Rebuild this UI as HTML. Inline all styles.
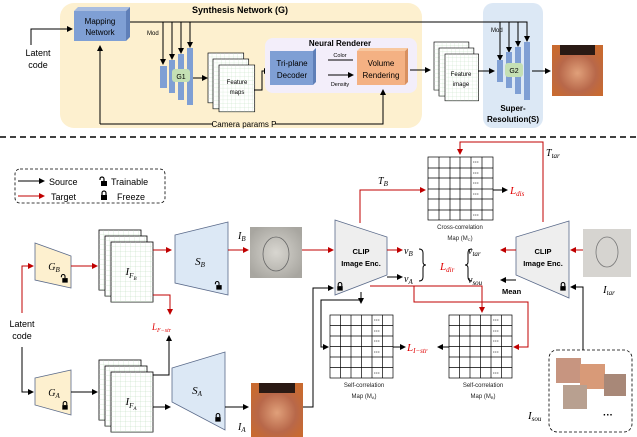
<!DOCTYPE html>
<html><head><meta charset="utf-8"><style>
body{margin:0;background:#fff}
svg{display:block;font-family:"Liberation Sans",sans-serif}
.s{font-size:9px}
.m{font-family:"Liberation Serif",serif;font-style:italic}
</style></head><body>
<svg width="637" height="437" viewBox="0 0 637 437" xmlns="http://www.w3.org/2000/svg">
<defs>
<marker id="ak" markerWidth="6" markerHeight="6" refX="5" refY="3" orient="auto" markerUnits="userSpaceOnUse"><path d="M0,0L6,3L0,6z" fill="#000"/></marker>
<marker id="ar" markerWidth="6" markerHeight="6" refX="5" refY="3" orient="auto" markerUnits="userSpaceOnUse"><path d="M0,0L6,3L0,6z" fill="#c00000"/></marker>
<pattern id="grid" width="5" height="5" patternUnits="userSpaceOnUse"><path d="M5,0V5H0" fill="none" stroke="#b8dcb8" stroke-width="0.5"/></pattern>
<radialGradient id="face" cx="50%" cy="55%" r="60%"><stop offset="0" stop-color="#e0a07a"/><stop offset="0.6" stop-color="#b8684a"/><stop offset="1" stop-color="#c86a30"/></radialGradient>
<radialGradient id="sk" cx="50%" cy="50%" r="60%"><stop offset="0" stop-color="#d8d6d0"/><stop offset="1" stop-color="#a8a6a0"/></radialGradient>
<g id="lock"><rect x="-3" y="-1" width="6" height="5" fill="#000"/><path d="M-2,-1V-3a2,2 0 0 1 4,0V-1" fill="none" stroke="#000" stroke-width="1.2"/></g>
<g id="ulock"><rect x="-3" y="-1" width="6" height="5" fill="#000"/><path d="M-4,-2V-3a2,2 0 0 1 4,0V-1" fill="none" stroke="#000" stroke-width="1.2"/></g>
<g id="sheet"><rect width="42" height="60" fill="#fff" stroke="#000" stroke-width="0.8"/><rect width="42" height="60" fill="url(#grid)"/></g>
</defs>

<!-- TOP -->
<rect x="60" y="3" width="362" height="125" rx="14" fill="#fdf0cf"/>
<rect x="483" y="3" width="60" height="125" rx="10" fill="#dce8f5"/>
<text x="240" y="13" font-size="9" font-weight="bold" text-anchor="middle">Synthesis Network (G)</text>
<text x="38" y="56" font-size="9" text-anchor="middle">Latent</text>
<text x="38" y="68" font-size="9" text-anchor="middle">code</text>
<path d="M31,45V29H72" fill="none" stroke="#000" marker-end="url(#ak)"/>
<path d="M74,11l4,-4h52l-4,4z" fill="#a9bde0"/><path d="M126,11l4,-4v30l-4,4z" fill="#5f7fb8"/>
<rect x="74" y="11" width="52" height="30" fill="#7f9fd4"/>
<text x="100" y="24" font-size="8" text-anchor="middle">Mapping</text>
<text x="100" y="35" font-size="8" text-anchor="middle">Network</text>
<path d="M130,22H527V35" fill="none" stroke="#000"/>
<g stroke="#000" fill="none" marker-end="url(#ak)">
<path d="M163,22V64"/><path d="M172,22V59"/><path d="M181,22V53"/><path d="M190,22V47"/>
<path d="M500,22V60"/><path d="M509,22V52"/><path d="M518,22V46"/><path d="M527,22V41"/>
</g>
<text x="147" y="35" font-size="6">Mod</text>
<text x="491" y="32" font-size="6">Mod</text>
<g fill="#7f9fd4"><rect x="160" y="66" width="7" height="22"/><rect x="169" y="60" width="6" height="33"/><rect x="178" y="54" width="6" height="46"/><rect x="187" y="48" width="6" height="57"/></g>
<rect x="172" y="69" width="18" height="13" rx="3" fill="#c5e0b4"/><text x="181" y="79" font-size="7" text-anchor="middle">G1</text>
<path d="M193,78H207" stroke="#000" marker-end="url(#ak)"/>
<use href="#sheet" transform="translate(208,53) scale(0.85,0.83)"/>
<use href="#sheet" transform="translate(213,59) scale(0.85,0.83)"/>
<use href="#sheet" transform="translate(219,65) scale(0.85,0.78)"/>
<text x="237" y="84" font-size="6" text-anchor="middle">Feature</text>
<text x="237" y="94" font-size="6" text-anchor="middle">maps</text>
<path d="M254,90H262V71H269" fill="none" stroke="#000" marker-end="url(#ak)"/>
<rect x="265" y="38" width="152" height="55" rx="8" fill="#f3eefa"/>
<text x="340" y="46" font-size="8" font-weight="bold" text-anchor="middle">Neural Renderer</text>
<rect x="270" y="51" width="43" height="34" fill="#7f9fd4"/><path d="M313,51l3,-3v34l-3,3z" fill="#5f7fb8"/>
<text x="292" y="66" font-size="8" text-anchor="middle">Tri-plane</text>
<text x="292" y="78" font-size="8" text-anchor="middle">Decoder</text>
<path d="M328,60H353M328,75H353" stroke="#000" marker-end="url(#ak)"/>
<text x="340" y="57" font-size="5.5" text-anchor="middle">Color</text>
<text x="340" y="86" font-size="5.5" text-anchor="middle">Density</text>
<rect x="357" y="51" width="48" height="34" fill="#f4b183"/><path d="M405,51l3,-3v34l-3,3z" fill="#d89060"/><path d="M357,51l3,-3h48l-3,3z" fill="#f8c8a0"/>
<text x="381" y="66" font-size="8" text-anchor="middle">Volume</text>
<text x="381" y="78" font-size="8" text-anchor="middle">Rendering</text>
<path d="M100,124H213M275,124H383V90" fill="none" stroke="#000"/>
<path d="M100,124V46" stroke="#000" marker-end="url(#ak)"/>
<path d="M383,124V90" stroke="#000" marker-end="url(#ak)"/>
<text x="244" y="127" font-size="8" text-anchor="middle">Camera params P</text>
<path d="M410,70H430" stroke="#000" marker-end="url(#ak)"/>
<use href="#sheet" transform="translate(434,42) scale(0.83,0.8)"/>
<use href="#sheet" transform="translate(439,48) scale(0.83,0.8)"/>
<use href="#sheet" transform="translate(445,54) scale(0.8,0.78)"/>
<text x="461" y="76" font-size="6" text-anchor="middle">Feature</text>
<text x="461" y="86" font-size="6" text-anchor="middle">image</text>
<path d="M478,71H494" stroke="#000" marker-end="url(#ak)"/>
<g fill="#7f9fd4"><rect x="497" y="60" width="6" height="22"/><rect x="506" y="52" width="6" height="36"/><rect x="515" y="47" width="6" height="47"/><rect x="524" y="42" width="6" height="58"/></g>
<rect x="505" y="63" width="18" height="14" rx="3" fill="#c5e0b4"/><text x="514" y="73" font-size="7" text-anchor="middle">G2</text>
<text x="513" y="111" font-size="8" font-weight="bold" text-anchor="middle">Super-</text>
<text x="513" y="122" font-size="8" font-weight="bold" text-anchor="middle">Resolution(S)</text>
<path d="M532,71H550" stroke="#000" marker-end="url(#ak)"/>
<rect x="552" y="45" width="51" height="51" fill="url(#face)"/>
<path d="M560,45h35v10h-35z" fill="#2a1a14"/>
<line x1="0" y1="137" x2="637" y2="137" stroke="#000" stroke-width="1.5" stroke-dasharray="6,4"/>

<!-- LEGEND -->
<rect x="15" y="169" width="150" height="34" rx="5" fill="none" stroke="#000" stroke-width="0.8" stroke-dasharray="3,2"/>
<path d="M18,181H44" stroke="#000" marker-end="url(#ak)"/>
<path d="M18,196H44" stroke="#c00000" marker-end="url(#ar)"/>
<text x="49" y="185" font-size="9">Source</text>
<text x="51" y="200" font-size="9">Target</text>
<use href="#ulock" transform="translate(104,182)"/><use href="#lock" transform="translate(104,196)"/>
<text x="111" y="185" font-size="9">Trainable</text>
<text x="117" y="200" font-size="9">Freeze</text>

<!-- generators -->
<text x="22" y="327" font-size="9" text-anchor="middle">Latent</text>
<text x="22" y="339" font-size="9" text-anchor="middle">code</text>
<path d="M22,313V266H33" fill="none" stroke="#c00000" marker-end="url(#ar)"/>
<path d="M22,347V392H33" fill="none" stroke="#000" marker-end="url(#ak)"/>
<polygon points="35,243 71,256 71,288 35,280" fill="#fdf0cf" stroke="#5a6a8a" stroke-width="0.8"/>
<text x="54" y="270" font-size="10" class="m" text-anchor="middle">G<tspan font-size="7" dy="2">B</tspan></text>
<use href="#ulock" transform="translate(65,279) scale(0.9)"/>
<polygon points="35,378 71,370 71,415 35,405" fill="#fdf0cf" stroke="#5a6a8a" stroke-width="0.8"/>
<text x="54" y="396" font-size="10" class="m" text-anchor="middle">G<tspan font-size="7" dy="2">A</tspan></text>
<use href="#lock" transform="translate(65,406) scale(0.9)"/>
<path d="M71,266H97" stroke="#c00000" marker-end="url(#ar)"/>
<path d="M71,392H97" stroke="#000" marker-end="url(#ak)"/>
<use href="#sheet" transform="translate(99,230)"/><use href="#sheet" transform="translate(105,236)"/><use href="#sheet" transform="translate(111,242)"/>
<use href="#sheet" transform="translate(99,360)"/><use href="#sheet" transform="translate(105,366)"/><use href="#sheet" transform="translate(111,372)"/>
<text x="131" y="275" font-size="11" class="m" text-anchor="middle">I<tspan font-size="7" dy="3">F</tspan><tspan font-size="5" dy="2">B</tspan></text>
<text x="131" y="405" font-size="11" class="m" text-anchor="middle">I<tspan font-size="7" dy="3">F</tspan><tspan font-size="5" dy="2">A</tspan></text>
<path d="M153,250H171" stroke="#c00000" marker-end="url(#ar)"/>
<path d="M153,295H170V314" fill="none" stroke="#c00000" marker-end="url(#ar)"/>
<text x="152" y="330" font-size="9" fill="#e00000" class="m">L<tspan font-size="6" dy="2">F−str</tspan></text>
<path d="M153,375H169V336" fill="none" stroke="#000" marker-end="url(#ak)"/>
<path d="M153,407H170" stroke="#000" marker-end="url(#ak)"/>
<polygon points="175,235 228,222 228,295 175,283" fill="#dce8f5" stroke="#5a6a8a" stroke-width="0.8"/>
<text x="200" y="265" font-size="11" class="m" text-anchor="middle">S<tspan font-size="7" dy="2">B</tspan></text>
<use href="#ulock" transform="translate(219,286) scale(0.9)"/>
<polygon points="172,368 225,352 225,430 172,402" fill="#dce8f5" stroke="#5a6a8a" stroke-width="0.8"/>
<text x="197" y="394" font-size="11" class="m" text-anchor="middle">S<tspan font-size="7" dy="2">A</tspan></text>
<use href="#lock" transform="translate(218,418) scale(0.9)"/>
<path d="M228,250H248" stroke="#c00000" marker-end="url(#ar)"/>
<path d="M225,407H248" stroke="#000" marker-end="url(#ak)"/>
<text x="238" y="239" font-size="10" class="m">I<tspan font-size="7" dy="2">B</tspan></text>
<text x="238" y="430" font-size="10" class="m">I<tspan font-size="7" dy="2">A</tspan></text>
<rect x="250" y="227" width="52" height="51" fill="url(#sk)"/>
<ellipse cx="276" cy="254" rx="13" ry="17" fill="none" stroke="#666" stroke-width="0.8"/>
<rect x="251" y="383" width="52" height="54" fill="url(#face)"/>
<path d="M259,383h36v10h-36z" fill="#2a1a14"/>
<path d="M302,250H333" stroke="#c00000" marker-end="url(#ar)"/>
<path d="M303,407H313V288H333" fill="none" stroke="#000" marker-end="url(#ak)"/>

<!-- CLIP -->
<polygon points="335,220 387,237 387,275 335,295" fill="#eeeeee" stroke="#5a6a8a" stroke-width="0.8"/>
<text x="361" y="254" font-size="7.5" font-weight="bold" text-anchor="middle">CLIP</text>
<text x="361" y="266" font-size="7.5" font-weight="bold" text-anchor="middle">Image Enc.</text>
<use href="#lock" transform="translate(340,287) scale(0.9)"/>
<polygon points="569,221 516,237 516,275 569,298" fill="#eeeeee" stroke="#5a6a8a" stroke-width="0.8"/>
<text x="543" y="254" font-size="7.5" font-weight="bold" text-anchor="middle">CLIP</text>
<text x="543" y="266" font-size="7.5" font-weight="bold" text-anchor="middle">Image Enc.</text>
<use href="#lock" transform="translate(563,287) scale(0.9)"/>
<rect x="583" y="229" width="48" height="48" fill="#d6d4d0"/>
<ellipse cx="607" cy="252" rx="11" ry="15" fill="none" stroke="#777" stroke-width="0.8"/>
<text x="603" y="293" font-size="11" class="m">I<tspan font-size="7" dy="2">tar</tspan></text>
<path d="M583,250H571" stroke="#c00000" marker-end="url(#ar)"/>
<path d="M387,250H402" stroke="#c00000" marker-end="url(#ar)"/>
<path d="M387,277H402" stroke="#000" marker-end="url(#ak)"/>
<path d="M516,250H501" stroke="#c00000" marker-end="url(#ar)"/>
<path d="M516,280H501" stroke="#000" marker-end="url(#ak)"/>
<text x="404" y="254" font-size="10" class="m">v<tspan font-size="7" dy="2">B</tspan></text>
<text x="404" y="282" font-size="10" class="m">v<tspan font-size="7" dy="2">A</tspan></text>
<text x="468" y="254" font-size="10" class="m">v<tspan font-size="7" dy="2">tar</tspan></text>
<text x="468" y="283" font-size="10" class="m">v<tspan font-size="7" dy="2">sou</tspan></text>
<path d="M419,249q4,0 4,4v9q0,3 3,3q-3,0 -3,3v9q0,4 -4,4" fill="none" stroke="#000"/>
<path d="M472,249q-4,0 -4,4v9q0,3 -3,3q3,0 3,3v9q0,4 4,4" fill="none" stroke="#000"/>
<text x="440" y="270" font-size="11" fill="#e00000" class="m">L<tspan font-size="7" dy="2">dir</tspan></text>
<text x="502" y="294" font-size="7.5" font-weight="bold">Mean</text>

<!-- red connectors -->
<path d="M360,223V190H425" fill="none" stroke="#c00000" marker-end="url(#ar)"/>
<text x="378" y="184" font-size="10" class="m">T<tspan font-size="7" dy="2">B</tspan></text>
<path d="M543,222V142H460V154" fill="none" stroke="#c00000" marker-end="url(#ar)"/>
<text x="546" y="156" font-size="10" class="m">T<tspan font-size="7" dy="2">tar</tspan></text>
<path d="M370,286H482V312" fill="none" stroke="#c00000" marker-end="url(#ar)"/>
<path d="M414,286V302H528V347H514" fill="none" stroke="#c00000" marker-end="url(#ar)"/>
<path d="M361,292V303" stroke="#000" marker-end="url(#ak)"/>
<path d="M361,300H321V347H328" fill="none" stroke="#000" marker-end="url(#ak)"/>
<path d="M583,350V287H571" fill="none" stroke="#000" marker-end="url(#ak)"/>

<!-- grids -->
<g id="g1" stroke="#000" stroke-width="0.7" fill="none">
<rect x="428" y="157" width="65" height="63" fill="#fff"/>
<path d="M439,157V220M450,157V220M460,157V220M471,157V220M482,157V220M428,168H493M428,178H493M428,189H493M428,199H493M428,210H493"/>
</g>
<g stroke="#000" stroke-width="0.7" fill="none">
<rect x="330" y="315" width="63" height="63" fill="#fff"/>
<path d="M340.5,315V378M351,315V378M361.5,315V378M372,315V378M382.5,315V378M330,325.5H393M330,336H393M330,346.5H393M330,357H393M330,367.5H393"/>
<rect x="449" y="315" width="63" height="63" fill="#fff"/>
<path d="M459.5,315V378M470,315V378M480.5,315V378M491,315V378M501.5,315V378M449,325.5H512M449,336H512M449,346.5H512M449,357H512M449,367.5H512"/>
</g>
<g font-size="6" font-weight="bold" text-anchor="middle">
<text x="476" y="164">···</text><text x="476" y="175">···</text><text x="476" y="185">···</text><text x="476" y="196">···</text><text x="476" y="217">···</text>
<text x="377" y="322">···</text><text x="377" y="333">···</text><text x="377" y="343">···</text><text x="377" y="354">···</text><text x="377" y="375">···</text>
<text x="496" y="322">···</text><text x="496" y="333">···</text><text x="496" y="343">···</text><text x="496" y="354">···</text><text x="496" y="375">···</text>
</g>
<path d="M493,190H507" stroke="#000" marker-end="url(#ak)"/>
<text x="510" y="194" font-size="11" fill="#e00000" class="m">L<tspan font-size="7" dy="2">dis</tspan></text>
<path d="M393,347H405" stroke="#000" marker-end="url(#ak)"/>
<path d="M449,347H438" stroke="#000" marker-end="url(#ak)"/>
<text x="407" y="351" font-size="11" fill="#e00000" class="m">L<tspan font-size="7" dy="2">I−str</tspan></text>
<g font-size="6" text-anchor="middle" fill="#222">
<text x="460" y="229">Cross-correlation</text><text x="460" y="240">Map (M<tspan font-size="4" dy="1">C</tspan><tspan dy="-1">)</tspan></text>
<text x="364" y="387">Self-correlation</text><text x="364" y="398">Map (M<tspan font-size="4" dy="1">A</tspan><tspan dy="-1">)</tspan></text>
<text x="483" y="387">Self-correlation</text><text x="483" y="398">Map (M<tspan font-size="4" dy="1">B</tspan><tspan dy="-1">)</tspan></text>
</g>

<!-- I_sou -->
<rect x="549" y="350" width="83" height="82" rx="8" fill="none" stroke="#000" stroke-width="0.8" stroke-dasharray="3,2"/>
<rect x="556" y="358" width="25" height="25" fill="#c79580"/>
<rect x="580" y="364" width="25" height="25" fill="#d89a78"/>
<rect x="604" y="374" width="22" height="22" fill="#a88878"/>
<rect x="563" y="385" width="24" height="24" fill="#b8a090"/>
<text x="608" y="418" font-size="10" font-weight="bold" text-anchor="middle">···</text>
<text x="528" y="419" font-size="11" class="m">I<tspan font-size="7" dy="2">sou</tspan></text>
</svg>
</body></html>
